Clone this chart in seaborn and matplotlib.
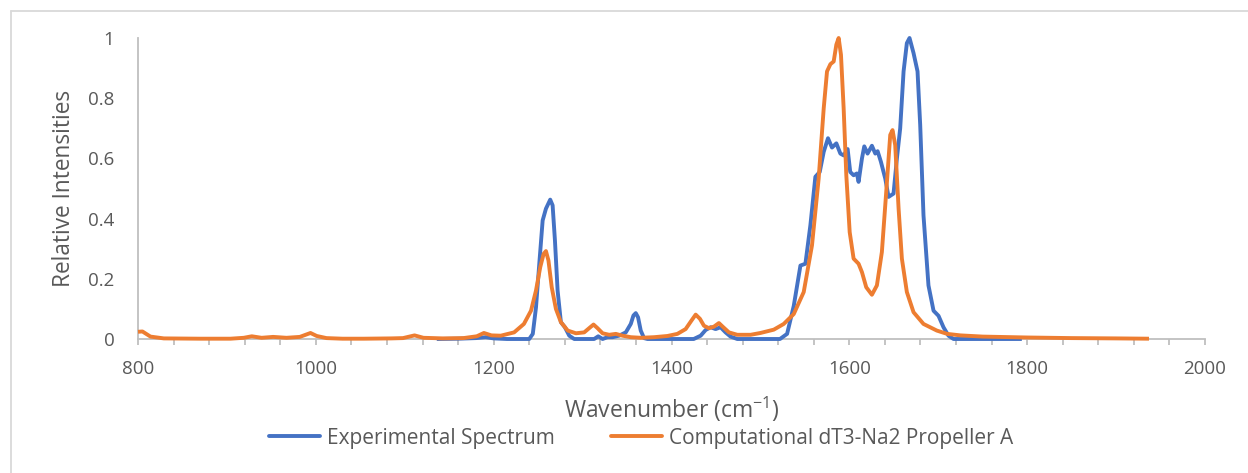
import matplotlib
matplotlib.use("Agg")
import matplotlib.pyplot as plt
from matplotlib.lines import Line2D
import seaborn as sns
import pandas as pd

# ---------------- data ----------------
exp_x = [1136, 1160, 1180, 1191, 1200, 1215, 1240, 1244, 1247.6, 1251.3, 1255.1, 1258.8,
         1263.6, 1266.3, 1268.9, 1271.9, 1275.6, 1280.1, 1285, 1290.6, 1313, 1317.6,
         1322.5, 1328, 1333.7, 1341, 1348.6, 1354.2, 1357.2, 1359.8, 1362.4, 1365.4,
         1369.1, 1373, 1425, 1432.8, 1438.4, 1444, 1449.6, 1455.2, 1460.8, 1466.4, 1474,
         1522, 1530, 1537.5, 1545, 1550.6, 1556.2, 1561.8, 1566.7, 1571.2, 1576, 1580.5,
         1585.4, 1589.9, 1593.6, 1598.1, 1601, 1604.8, 1608.5, 1610.4, 1614.2, 1616.8,
         1620.5, 1625.4, 1629.2, 1631.8, 1635.5, 1640.4, 1644.1, 1649.7, 1653.5, 1657.2,
         1661, 1664.7, 1667.7, 1672.2, 1676.7, 1679.7, 1683.4, 1689, 1694.7, 1700.3,
         1705.9, 1711.5, 1717.2, 1794]
exp_y = [0, 0.001, 0.003, 0.006, 0.002, 0, 0, 0.017, 0.105, 0.25, 0.394, 0.433,
         0.463, 0.444, 0.328, 0.161, 0.056, 0.039, 0.011, 0, 0, 0.009,
         0, 0.006, 0.006, 0.011, 0.022, 0.05, 0.078, 0.086, 0.072, 0.028,
         0.003, 0, 0, 0.011, 0.03, 0.039, 0.033, 0.039, 0.022, 0.008, 0,
         0, 0.017, 0.11, 0.244, 0.25, 0.378, 0.539, 0.555, 0.622, 0.667, 0.636,
         0.65, 0.616, 0.61, 0.631, 0.555, 0.544, 0.55, 0.522, 0.6, 0.64,
         0.616, 0.642, 0.616, 0.624, 0.589, 0.533, 0.472, 0.483, 0.6, 0.7,
         0.889, 0.983, 1.0, 0.95, 0.889, 0.711, 0.411, 0.178, 0.094, 0.077,
         0.039, 0.011, 0, 0]

comp_x = [800, 805, 814, 829, 870, 904, 919, 928, 939, 952, 967, 982, 994, 1001, 1012,
          1030, 1054, 1085, 1098, 1111, 1121, 1143, 1166, 1181, 1189, 1197.5, 1208,
          1223, 1234, 1242, 1247.6, 1252.4, 1256.2, 1258.8, 1261.6, 1265.3, 1270,
          1275.6, 1283.3, 1292.5, 1301.8, 1308.6, 1312.3, 1316.8, 1322.5, 1329.9,
          1337.4, 1344.9, 1354.2, 1365.4, 1380.4, 1395.4, 1406.6, 1415.9, 1422.4,
          1427.2, 1432, 1436.5, 1442.1, 1447.7, 1453.3, 1458.3, 1464.6, 1474, 1489,
          1500, 1515, 1526.2, 1537.5, 1548.7, 1558, 1565.5, 1571.2, 1574.9, 1578.7,
          1582.4, 1585.4, 1588, 1590.6, 1593.6, 1596.6, 1600.4, 1604.8, 1610.4,
          1614.2, 1619, 1625.4, 1631, 1636.6, 1641.5, 1646, 1648.6, 1651.6, 1655.4,
          1659.1, 1664.7, 1672.2, 1683.4, 1698.4, 1710, 1725, 1750, 1800, 1850,
          1900, 1937]
comp_y = [0.024, 0.025, 0.008, 0.002, 0.001, 0.001, 0.004, 0.009, 0.004, 0.007, 0.004,
          0.007, 0.02, 0.01, 0.003, 0.001, 0.001, 0.002, 0.003, 0.012, 0.004, 0.002,
          0.003, 0.009, 0.02, 0.012, 0.011, 0.022, 0.05, 0.094, 0.161, 0.239, 0.283,
          0.292, 0.261, 0.172, 0.1, 0.056, 0.028, 0.019, 0.022, 0.039, 0.048, 0.036,
          0.019, 0.014, 0.017, 0.011, 0.006, 0.004, 0.006, 0.01, 0.017, 0.033, 0.061,
          0.081, 0.067, 0.044, 0.036, 0.041, 0.053, 0.039, 0.022, 0.014, 0.014,
          0.02, 0.031, 0.05, 0.083, 0.156, 0.311, 0.533, 0.767, 0.889, 0.913,
          0.922, 0.978, 1.0, 0.944, 0.767, 0.544, 0.355, 0.267, 0.25,
          0.222, 0.172, 0.147, 0.178, 0.289, 0.489, 0.678, 0.694, 0.644, 0.433,
          0.267, 0.156, 0.089, 0.05, 0.028, 0.017, 0.012, 0.008, 0.005, 0.003,
          0.002, 0.001]

series_names = ["Experimental Spectrum", "Computational dT3-Na2 Propeller A"]
x_ticks = [800, 1000, 1200, 1400, 1600, 1800, 2000]
y_ticks = [0, 0.2, 0.4, 0.6, 0.8, 1]
y_tick_labels = ["0", "0.2", "0.4", "0.6", "0.8", "1"]
x_label = "Wavenumber (cm$^{\\mathregular{-1}}$)"
y_label = "Relative Intensities"

# ---------------- style ----------------
sns.set_theme(style="white")
plt.rcParams["font.family"] = ["Open Sans", "DejaVu Sans"]
plt.rcParams["mathtext.fontset"] = "custom"
plt.rcParams["mathtext.rm"] = "Open Sans"
plt.rcParams["mathtext.it"] = "Open Sans"
plt.rcParams["mathtext.bf"] = "Open Sans"

TXT = "#595959"
AXC = "#BFBFBF"
BLUE = "#4472C4"
ORANGE = "#ED7D31"
LW = 2.8

W, H = 1248, 473
fig = plt.figure(figsize=(W / 100, H / 100), dpi=100)
fig.patch.set_facecolor("white")

x0, x1 = 138, 1205
y0, y1 = 339, 38
ax = fig.add_axes([x0 / W, 1 - y0 / H, (x1 - x0) / W, (y0 - y1) / H])

df_exp = pd.DataFrame({"x": exp_x, "y": exp_y})
df_comp = pd.DataFrame({"x": comp_x, "y": comp_y})

sns.lineplot(data=df_exp, x="x", y="y", ax=ax, color=BLUE, linewidth=LW,
             sort=False, estimator=None, clip_on=False, zorder=3)
sns.lineplot(data=df_comp, x="x", y="y", ax=ax, color=ORANGE, linewidth=LW,
             sort=False, estimator=None, clip_on=False, zorder=4)
for ln in ax.lines:
    ln.set_solid_capstyle("butt")
    ln.set_solid_joinstyle("round")

ax.set_xlim(800, 2000)
ax.set_ylim(0, 1)
ax.set_xticks(x_ticks)
ax.set_xticks(list(range(800, 2001, 40)), minor=True)
ax.set_yticks(y_ticks)
ax.set_yticklabels(y_tick_labels)

for s in ["top", "right"]:
    ax.spines[s].set_visible(False)
for s in ["left", "bottom"]:
    ax.spines[s].set_color(AXC)
    ax.spines[s].set_linewidth(1.3)

ax.tick_params(axis="x", which="both", direction="out", length=4, width=1.3,
               color=AXC, labelsize=13.5, labelcolor=TXT, pad=11, bottom=True)
ax.tick_params(axis="x", which="minor", labelbottom=False)
ax.tick_params(axis="y", which="both", length=0, labelsize=13.5, labelcolor=TXT, pad=17)

ax.set_xlabel(x_label, fontsize=16.5, color=TXT)
ax.xaxis.set_label_coords(0.5, -0.185)
ax.set_ylabel(y_label, fontsize=16.3, color=TXT)
ax.yaxis.set_label_coords(-0.058, 0.5)
ax.grid(False)

handles = [Line2D([], [], color=BLUE, linewidth=LW),
           Line2D([], [], color=ORANGE, linewidth=LW)]
fig.legend(handles, series_names, loc="center", ncol=2, frameon=False,
           bbox_to_anchor=(641 / W, 1 - 438 / H), fontsize=15, labelcolor=TXT,
           handlelength=2.45, handletextpad=0.33, columnspacing=2.7,
           borderpad=0.2)

# outer chart border (left/top visible in the reference)
fig.add_artist(Line2D([11 / W, 11 / W], [0, 1 - 11 / H], color="#D9D9D9", linewidth=1.3,
                      transform=fig.transFigure))
fig.add_artist(Line2D([11 / W, 1], [1 - 11 / H, 1 - 11 / H], color="#D9D9D9", linewidth=1.3,
                      transform=fig.transFigure))

fig.savefig("out.png", dpi=100, facecolor="white")
